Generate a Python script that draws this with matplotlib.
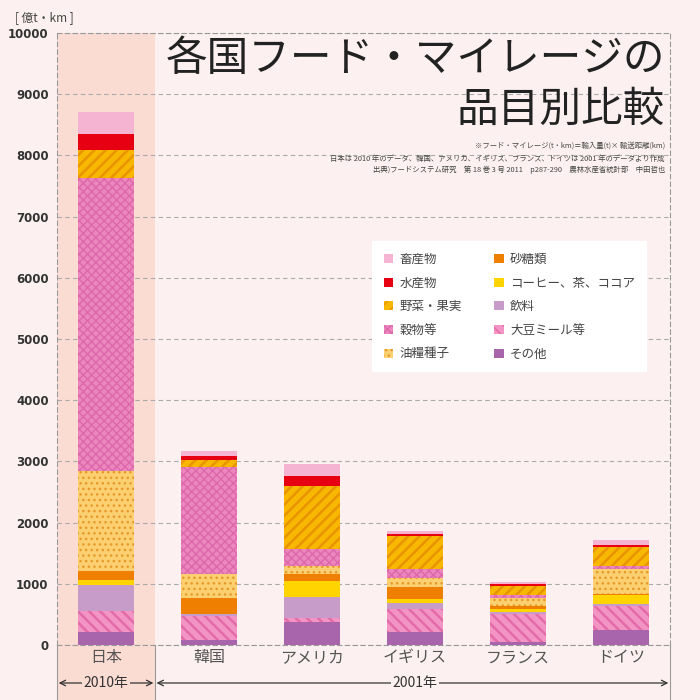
import matplotlib.pyplot as plt
import numpy as np
from matplotlib.transforms import blended_transform_factory

plt.rcParams['font.family'] = ['Noto Sans CJK JP', 'DejaVu Sans']

# data (億t・km)
countries = ['日本', '韓国', 'アメリカ', 'イギリス', 'フランス', 'ドイツ']
# stacked from the bottom up
others = [210, 77, 376, 218, 49, 251]        # その他
soymeal = [350, 389, 61, 376, 463, 393]      # 大豆ミール等
drinks = [423, 36, 354, 93, 33, 27]          # 飲料
coffee = [82, 10, 256, 70, 39, 146]          # コーヒー、茶、ココア
sugar = [148, 262, 120, 197, 54, 16]         # 砂糖類
oilseed = [1623, 393, 121, 142, 126, 416]    # 油糧種子
grain = [4796, 1746, 278, 147, 54, 44]       # 穀物等
veg = [464, 110, 1036, 541, 148, 311]        # 野菜・果実
fish = [251, 70, 164, 28, 27, 33]            # 水産物
meat = [355, 82, 191, 54, 38, 77]            # 畜産物

bg = '#fcf1f0'
hl = '#fbdcd3'

fig = plt.figure(figsize=(7, 7), dpi=100, facecolor=bg)
ax = fig.add_axes([57 / 700, 55 / 700, 613 / 700, 612 / 700])
ax.set_facecolor('none')

# highlighted Japan column (runs down to the bottom of the figure)
fig.patches.append(plt.Rectangle((57 / 700, 0), 98 / 700, 1 - 33 / 700,
                                 transform=fig.transFigure, facecolor=hl,
                                 edgecolor='none', zorder=-5))

x = np.arange(len(countries))
w = 0.54
series = [
    (others, 'その他', '#a865ab', None, None, 1),
    (soymeal, '大豆ミール等', '#f295c4', '#e46aa9', '\\\\\\', 1.8),
    (drinks, '飲料', '#c89cc9', None, None, 1),
    (coffee, 'コーヒー、茶、ココア', '#ffd400', None, None, 1),
    (sugar, '砂糖類', '#ee7f00', None, None, 1),
    (oilseed, '油糧種子', '#fcd070', '#e6982a', '...', 1),
    (grain, '穀物等', '#ec86bf', '#dc68a9', 'xxxx', 1.0),
    (veg, '野菜・果実', '#f8b700', '#e99300', '///', 1.8),
    (fish, '水産物', '#e60012', None, None, 1),
    (meat, '畜産物', '#f5b5d2', None, None, 1),
]

bottom = np.zeros(len(countries))
handles = {}
for vals, name, fc, hc, hatch, hlw in series:
    with plt.rc_context({'hatch.linewidth': hlw}):
        b = ax.bar(x, vals, w, bottom=bottom, color=fc,
                   edgecolor=hc if hc else fc, hatch=hatch, linewidth=0,
                   zorder=3)
    handles[name] = b
    bottom += np.array(vals)

ax.set_xlim(-0.476, 5.476)
ax.set_ylim(0, 10000)
ax.set_yticks(range(0, 10001, 1000))
ax.set_yticklabels([str(v) for v in range(0, 10001, 1000)],
                   family='DejaVu Sans', fontweight='bold', fontsize=8.5,
                   color='#333')
ax.set_xticks(x)
ax.set_xticklabels(countries, fontsize=11.5, color='#555')
ax.tick_params(length=0, pad=6)
ax.tick_params(axis='x', pad=3)

ax.grid(axis='y', color='#aaa', linestyle=(0, (4, 3)), linewidth=0.8, zorder=1)
for s in ['left', 'right', 'top', 'bottom']:
    ax.spines[s].set_color('#999')
    ax.spines[s].set_linestyle((0, (4, 3)))
    ax.spines[s].set_linewidth(0.8)

# y unit
fig.text(15 / 700, 1 - 18 / 700, '[ 億t・km ]', fontsize=8.5, color='#444',
         va='center', ha='left')

# title
fig.text(665 / 700, 1 - 60 / 700, '各国フード・マイレージの', fontsize=30,
         ha='right', va='center', color='#222')
fig.text(665 / 700, 1 - 110 / 700, '品目別比較', fontsize=30,
         ha='right', va='center', color='#222')

notes = ['※フード・マイレージ(t・km)＝輸入量(t)× 輸送距離(km)',
         '日本は 2010 年のデータ、韓国、アメリカ、イギリス、フランス、ドイツは 2001 年のデータより作成',
         '出典)フードシステム研究　第 18 巻 3 号 2011　p287-290　農林水産省統計部　中田哲也']
for i, t in enumerate(notes):
    fig.text(665 / 700, 1 - (147 + i * 11.5) / 700, t, fontsize=5.3,
             ha='right', va='center', color='#444')

# legend
order = ['畜産物', '水産物', '野菜・果実', '穀物等', '油糧種子',
         '砂糖類', 'コーヒー、茶、ココア', '飲料', '大豆ミール等', 'その他']
leg = ax.legend([handles[n] for n in order], order, ncol=2,
                loc='upper left', bbox_to_anchor=(0.514, 0.66),
                borderaxespad=0, fontsize=9, frameon=True, facecolor='white',
                edgecolor='none', fancybox=False, framealpha=1,
                handlelength=0.75, handleheight=0.75, handletextpad=0.5,
                labelspacing=0.85, columnspacing=2.6, borderpad=0.95,
                labelcolor='#444')
leg.set_zorder(5)

# lines and arrows below the axis
tr = blended_transform_factory(ax.transData, fig.transFigure)
for xv in [-0.476, 0.476, 5.476]:
    ax.plot([xv, xv], [0, 55 / 700], transform=tr, color='#999', lw=0.8,
            clip_on=False)
ya = 1 - 683 / 700
ax.annotate('', xy=(-0.46, ya), xytext=(0.46, ya), xycoords=tr, textcoords=tr,
            arrowprops=dict(arrowstyle='<->', color='#333', lw=0.9,
                            shrinkA=0, shrinkB=0))
ax.annotate('', xy=(0.49, ya), xytext=(5.46, ya), xycoords=tr, textcoords=tr,
            arrowprops=dict(arrowstyle='<->', color='#333', lw=0.9,
                            shrinkA=0, shrinkB=0))
ax.text(0, ya, '2010年', transform=tr, ha='center', va='center', fontsize=10,
        color='#333', bbox=dict(facecolor=hl, edgecolor='none', pad=1))
ax.text(3.0, ya, '2001年', transform=tr, ha='center', va='center', fontsize=10,
        color='#333', bbox=dict(facecolor=bg, edgecolor='none', pad=1))

fig.savefig('out.png', dpi=100, facecolor=bg)
